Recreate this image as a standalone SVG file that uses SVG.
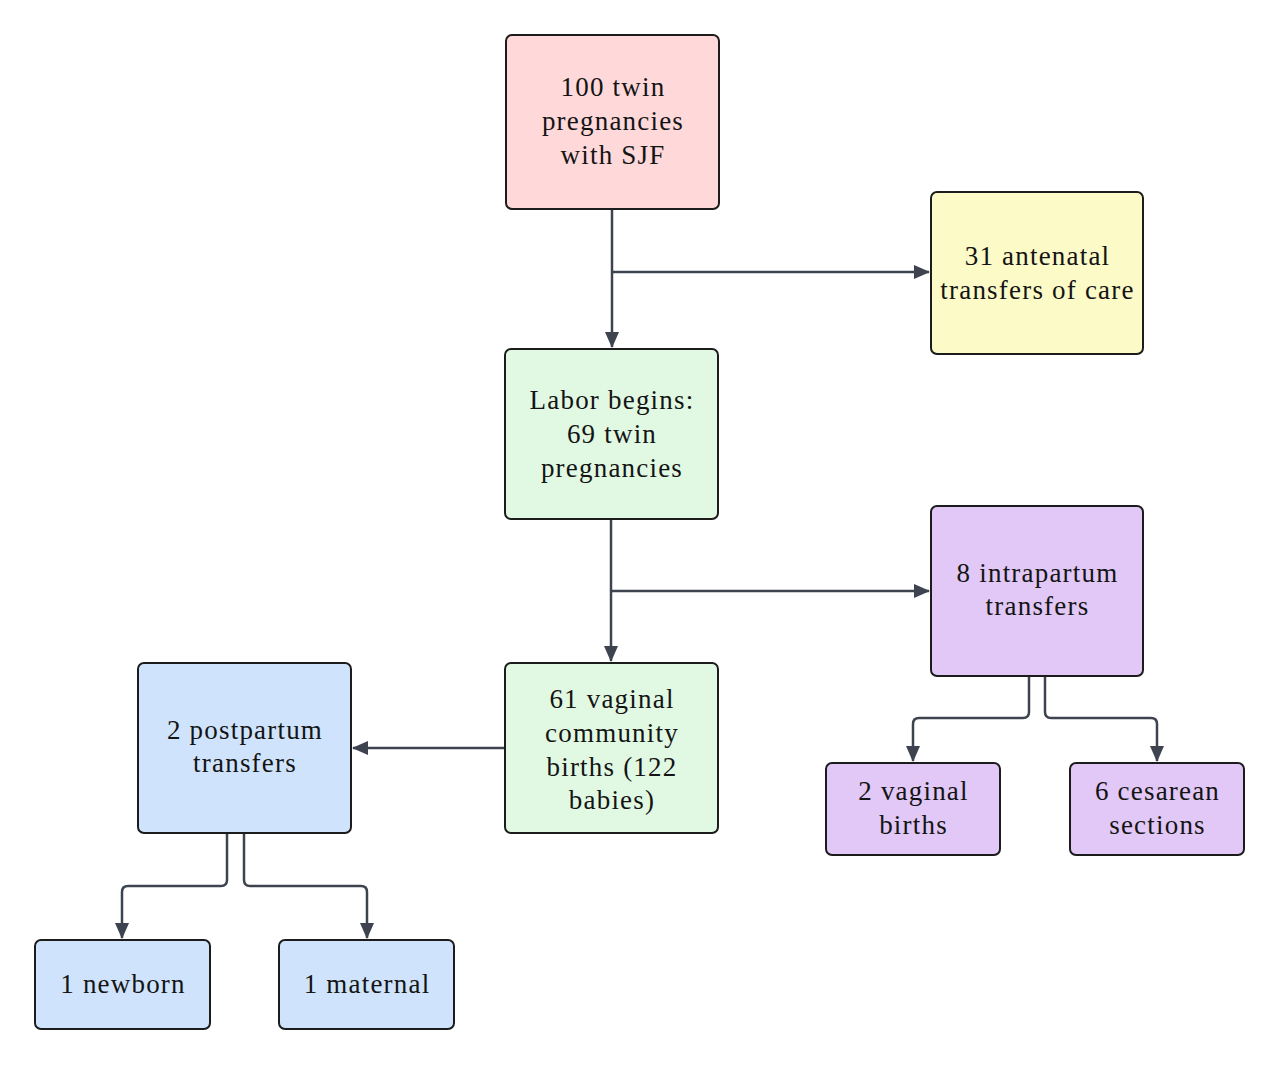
<svg xmlns="http://www.w3.org/2000/svg" width="1280" height="1065" viewBox="0 0 1280 1065">
<style>
.n rect{stroke:#1c1c1c;stroke-width:2;}
.pink{fill:#ffd8da}.yel{fill:#fcfbc8}.grn{fill:#e1f9e3}.pur{fill:#e1c8f6}.blu{fill:#cfe4fc}
text{font-family:"Liberation Serif","DejaVu Serif",serif;font-size:27px;letter-spacing:1.2px;fill:#141414;text-anchor:middle;dominant-baseline:central;}
.c path{fill:none;stroke:#3d4450;stroke-width:2.5;}
</style>
<defs>
<marker id="ah" markerUnits="userSpaceOnUse" markerWidth="16" markerHeight="14" refX="15" refY="7" orient="auto">
<path d="M0,0 L16,7 L0,14 Z" fill="#3d4450"/>
</marker>
</defs>
<rect width="1280" height="1065" fill="#ffffff"/>
<g class="c">
<path d="M612,210 V347" marker-end="url(#ah)"/>
<path d="M612,272 H929" marker-end="url(#ah)"/>
<path d="M611,520 V661" marker-end="url(#ah)"/>
<path d="M611,591 H929" marker-end="url(#ah)"/>
<path d="M504,748 H353" marker-end="url(#ah)"/>
<path d="M1029,677 V712 Q1029,718 1023,718 H919 Q913,718 913,724 V761" marker-end="url(#ah)"/>
<path d="M1045,677 V712 Q1045,718 1051,718 H1151 Q1157,718 1157,724 V761" marker-end="url(#ah)"/>
<path d="M227,834 V880 Q227,886 221,886 H128 Q122,886 122,892 V938" marker-end="url(#ah)"/>
<path d="M244,834 V880 Q244,886 250,886 H361 Q367,886 367,892 V938" marker-end="url(#ah)"/>
</g>
<g id="n1" class="n"><rect class="pink" x="506" y="35" width="213" height="174" rx="6"/>
<text x="613" y="87">100 twin</text><text x="613" y="121">pregnancies</text><text x="613" y="155">with SJF</text></g>
<g id="n2" class="n"><rect class="yel" x="931" y="192" width="212" height="162" rx="6"/>
<text x="1037.5" y="256">31 antenatal</text><text x="1037.5" y="290">transfers of care</text></g>
<g id="n3" class="n"><rect class="grn" x="505" y="349" width="213" height="170" rx="6"/>
<text x="612" y="400">Labor begins:</text><text x="612" y="434">69 twin</text><text x="612" y="468">pregnancies</text></g>
<g id="n4" class="n"><rect class="pur" x="931" y="506" width="212" height="170" rx="6"/>
<text x="1037.5" y="573">8 intrapartum</text><text x="1037.5" y="606">transfers</text></g>
<g id="n5" class="n"><rect class="grn" x="505" y="663" width="213" height="170" rx="6"/>
<text x="612" y="699">61 vaginal</text><text x="612" y="733">community</text><text x="612" y="767">births (122</text><text x="612" y="800">babies)</text></g>
<g id="n6" class="n"><rect class="blu" x="138" y="663" width="213" height="170" rx="6"/>
<text x="245" y="730">2 postpartum</text><text x="245" y="763">transfers</text></g>
<g id="n7" class="n"><rect class="pur" x="826" y="763" width="174" height="92" rx="6"/>
<text x="913.5" y="791">2 vaginal</text><text x="913.5" y="825">births</text></g>
<g id="n8" class="n"><rect class="pur" x="1070" y="763" width="174" height="92" rx="6"/>
<text x="1157.5" y="791">6 cesarean</text><text x="1157.5" y="825">sections</text></g>
<g id="n9" class="n"><rect class="blu" x="35" y="940" width="175" height="89" rx="6"/>
<text x="123" y="984">1 newborn</text></g>
<g id="n10" class="n"><rect class="blu" x="279" y="940" width="175" height="89" rx="6"/>
<text x="367" y="984">1 maternal</text></g>
</svg>
